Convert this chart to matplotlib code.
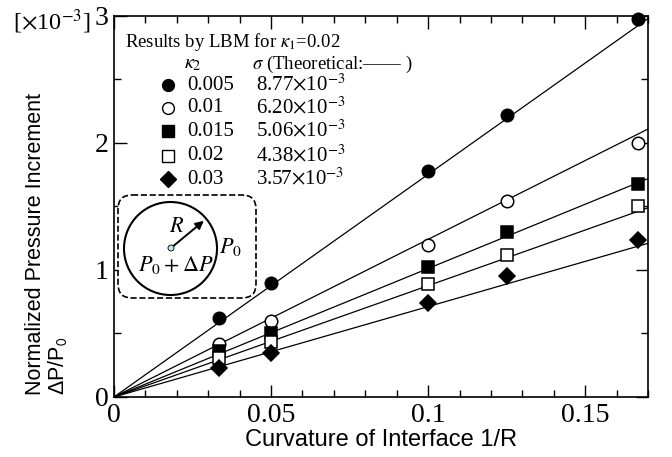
import matplotlib
matplotlib.use('Agg')
import matplotlib.pyplot as plt
import matplotlib.patches as patches
from matplotlib.ticker import MultipleLocator

plt.rcParams['mathtext.fontset'] = 'stix'
plt.rcParams['font.family'] = 'Liberation Serif'

# data (y in units of 1e-3)
curvature = [0.0333, 0.05, 0.1, 0.125, 0.1667]
kappa2 = ['0.005', '0.01', '0.015', '0.02', '0.03']
sigma = ['8.77', '6.20', '5.06', '4.38', '3.57']
lbm = [
    [0.62, 0.90, 1.78, 2.22, 2.98],
    [0.42, 0.60, 1.20, 1.54, 2.00],
    [0.36, 0.50, 1.02, 1.30, 1.68],
    [0.31, 0.43, 0.89, 1.12, 1.50],
    [0.23, 0.35, 0.74, 0.95, 1.24],
]
# theoretical lines: from origin to value at x = 0.17
theory_x = [0.0, 0.17]
theory_end = [2.98, 2.11, 1.72, 1.49, 1.21]

markers = ['o', 'o', 's', 's', 'D']
faces = ['black', 'white', 'black', 'white', 'black']
msizes = [9, 9, 8.5, 8.5, 8.5]

fig = plt.figure(figsize=(6.72, 4.57), dpi=100)
ax = fig.add_axes([0.1696, 0.1313, 0.7947, 0.8337])

for i in range(5):
    ax.plot(theory_x, [0.0, theory_end[i]], color='black', lw=0.9)
    ax.plot(curvature, lbm[i], ls='none', marker=markers[i], ms=msizes[i],
            mfc=faces[i], mec='black', mew=1.1, clip_on=False, zorder=5)

ax.set_xlim(0, 0.17)
ax.set_ylim(0, 3)
ax.xaxis.set_minor_locator(MultipleLocator(0.01))
ax.yaxis.set_minor_locator(MultipleLocator(0.5))
ax.set_xticks([0, 0.05, 0.1, 0.15])
ax.set_xticklabels(['0', '0.05', '0.1', '0.15'])
ax.set_yticks([0, 1, 2, 3])
ax.set_yticklabels(['0', '1', '2', '3'])
ax.tick_params(which='both', direction='in', top=True, right=True,
               labelsize=20, width=1.0)
ax.tick_params(which='major', length=9, pad=4)
ax.tick_params(which='minor', length=5)
for s in ax.spines.values():
    s.set_linewidth(1.2)

ax.set_xlabel('Curvature of Interface 1/R', family='Liberation Sans',
              fontsize=17, labelpad=1)
fig.text(47 / 672, 1 - 395 / 457, 'Normalized Pressure Increment\n\u0394P/P$_\\mathsf{0}$',
         family='Liberation Sans', fontsize=15.5, rotation=90,
         ha='center', va='bottom', multialignment='left', linespacing=0.95)
fig.text(13 / 672, 1 - 22 / 457, '[$\\times$10$^{-3}$]', fontsize=17.5,
         ha='left', va='center')

# overlay in pixel coordinates for legend text and schematic
ov = fig.add_axes([0, 0, 1, 1])
ov.set_xlim(0, 672)
ov.set_ylim(457, 0)
ov.axis('off')

ov.text(125, 42, 'Results by LBM for $\\kappa_1$=0.02', fontsize=13.5,
        ha='left', va='center')
ov.text(193, 64, '$\\kappa_2$', fontsize=14.5, ha='center', va='center')
ov.text(252, 64, '$\\sigma$ (Theoretical:\u2014\u2014 )', fontsize=13.5,
        ha='left', va='center')
row_y = [85, 108, 131, 156, 179]
for i in range(5):
    ov.plot(168, row_y[i], marker=markers[i], ms=msizes[i] - 0.5, mfc=faces[i],
            mec='black', mew=1.0)
    ov.text(187, row_y[i], kappa2[i], fontsize=15, ha='left', va='center')
    ov.text(256, row_y[i], sigma[i] + '$\\times$10$^{-3}$', fontsize=15,
            ha='left', va='center')

box = patches.FancyBboxPatch((118, 195), 138, 103,
                             boxstyle='round,pad=0,rounding_size=14',
                             fc='white', ec='black', ls='--', lw=1.2)
ov.add_patch(box)
ov.add_patch(patches.Circle((170.5, 248.5), 46.5, fill=False, ec='black', lw=1.5))
ov.add_patch(patches.FancyArrowPatch((171, 248), (206, 219), arrowstyle='-|>',
                                     mutation_scale=12, color='black', lw=1.4))
ov.add_patch(patches.Circle((171, 248), 3, fc='#bfe3ef', ec='black', lw=0.6, zorder=5))
ov.text(177, 228, '$R$', fontsize=16, ha='center', va='center')
ov.text(176, 265, '$P_0+\\Delta P$', fontsize=16, ha='center', va='center')
ov.text(230, 247, '$P_0$', fontsize=16, ha='center', va='center')

fig.savefig('out.png', dpi=100)
